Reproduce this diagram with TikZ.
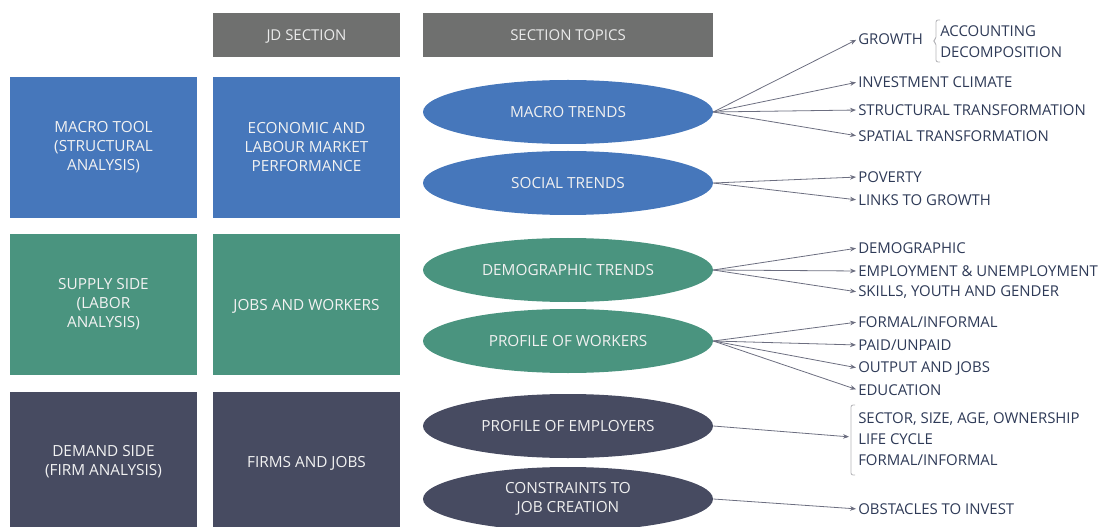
\documentclass[tikz,border=0pt]{standalone}
\usepackage{fontspec}
\setmainfont{Open Sans}
\usetikzlibrary{arrows.meta,shapes.geometric}
\definecolor{cblue}{HTML}{4677BB}
\definecolor{cgreen}{HTML}{4A947F}
\definecolor{cnavy}{HTML}{474B61}
\definecolor{cgray}{HTML}{6F706F}
\definecolor{ctext}{HTML}{2E3A57}
\definecolor{cline}{HTML}{6C6E80}
\definecolor{cbrace}{HTML}{B4B4B8}
\begin{document}
\begin{tikzpicture}[x=0.75pt,y=-0.75pt,
  box/.style={rectangle,inner sep=0pt,minimum width=140.25pt,text=white!95!black,align=center,
    font=\fontsize{11.5}{14.25}\selectfont},
  head/.style={rectangle,fill=cgray,inner sep=0pt,minimum height=33pt,text=white!92!black,
    text depth=0pt,font=\fontsize{11.2}{13.5}\selectfont},
  topic/.style={ellipse,inner sep=0pt,minimum width=217.5pt,minimum height=48pt,
    text=white!94!black,align=center,font=\fontsize{11.5}{14.25}\selectfont},
  item/.style={anchor=west,inner sep=0pt,text=ctext,align=left,
    font=\fontsize{11.2}{15.75}\selectfont},
  link/.style={draw=cline,line width=0.6pt,-{Stealth[length=4.5pt,width=3.5pt]},shorten >=1.5pt},
  brk/.style={draw=cbrace,line width=0.6pt,rounded corners=1.5pt}]
\useasboundingbox (0,0) rectangle (1102,527);
\clip (0,0) rectangle (1102,527);

% column headers
\node[head,minimum width=140.25pt] (hjd) at (306.5,35) {JD SECTION};
\node[head,minimum width=217.5pt] (htop) at (568,35) {SECTION TOPICS};

% tool boxes (left column) and JD sections
\node[box,fill=cblue,minimum height=105.75pt] (tool1) at (103.5,147.5) {MACRO TOOL\\(STRUCTURAL\\ANALYSIS)};
\node[box,fill=cblue,minimum height=105.75pt] (jd1) at (306.5,147.5) {ECONOMIC AND\\LABOUR MARKET\\PERFORMANCE};
\node[box,fill=cgreen,minimum height=105.75pt] (tool2) at (103.5,304.5) {SUPPLY SIDE\\(LABOR\\ANALYSIS)};
\node[box,fill=cgreen,minimum height=105.75pt,text depth=0pt] (jd2) at (306.5,304.5) {JOBS AND WORKERS};
\node[box,fill=cnavy,minimum height=104.25pt] (tool3) at (103.5,461.5) {DEMAND SIDE\\(FIRM ANALYSIS)};
\node[box,fill=cnavy,minimum height=104.25pt,text depth=0pt] (jd3) at (306.5,461.5) {FIRMS AND JOBS};

% section topics
\node[topic,fill=cblue] (macro) at (568,112) {MACRO TRENDS};
\node[topic,fill=cblue] (social) at (568,183) {SOCIAL TRENDS};
\node[topic,fill=cgreen] (demo) at (568,270) {DEMOGRAPHIC TRENDS};
\node[topic,fill=cgreen] (workers) at (568,341) {PROFILE OF WORKERS};
\node[topic,fill=cnavy] (employers) at (568,426) {PROFILE OF EMPLOYERS};
\node[topic,fill=cnavy] (constraints) at (568,499) {CONSTRAINTS TO\\JOB CREATION};

% detail items
\node[item] (growth) at (858,39) {GROWTH};
\node[item] (acc) at (940,42) {ACCOUNTING\\DECOMPOSITION};
\node[item] (invest) at (858,82) {INVESTMENT CLIMATE};
\node[item] (struct) at (858,110) {STRUCTURAL TRANSFORMATION};
\node[item] (spatial) at (858,136) {SPATIAL TRANSFORMATION};
\node[item] (poverty) at (858,177) {POVERTY};
\node[item] (links) at (858,200) {LINKS TO GROWTH};
\node[item] (demog) at (858,248) {DEMOGRAPHIC};
\node[item] (employ) at (858,271) {EMPLOYMENT \& UNEMPLOYMENT};
\node[item] (skills) at (858,292) {SKILLS, YOUTH AND GENDER};
\node[item] (formal) at (858,322) {FORMAL/INFORMAL};
\node[item] (paid) at (858,345) {PAID/UNPAID};
\node[item] (output) at (858,368) {OUTPUT AND JOBS};
\node[item] (educ) at (858,390) {EDUCATION};
\node[item] (firms) at (858,439) {SECTOR, SIZE, AGE, OWNERSHIP\\LIFE CYCLE\\FORMAL/INFORMAL};
\node[item] (obst) at (858,509) {OBSTACLES TO INVEST};

% brackets
\coordinate (gbt) at (940,20);
\coordinate (gbb) at (940,62);
\draw[brk] (gbt) -- (936,20) -- (936,39) -- (933,41) -- (936,43) -- (936,62) -- (gbb);
\coordinate (fbt) at (855,405);
\coordinate (fbb) at (855,475);
\coordinate (fbm) at (851,437);
\draw[brk] (fbt) -- (851,405) -- (851,475) -- (fbb);

% connectors
\foreach \t in {growth,invest,struct,spatial}
  \draw[link] (macro.east) -- (\t.west);
\foreach \t in {poverty,links}
  \draw[link] (social.east) -- (\t.west);
\foreach \t in {demog,employ,skills}
  \draw[link] (demo.east) -- (\t.west);
\foreach \t in {formal,paid,output,educ}
  \draw[link] (workers.east) -- (\t.west);
\draw[link] (employers.east) -- (fbm);
\draw[link] (constraints.east) -- (obst.west);
\end{tikzpicture}
\end{document}
